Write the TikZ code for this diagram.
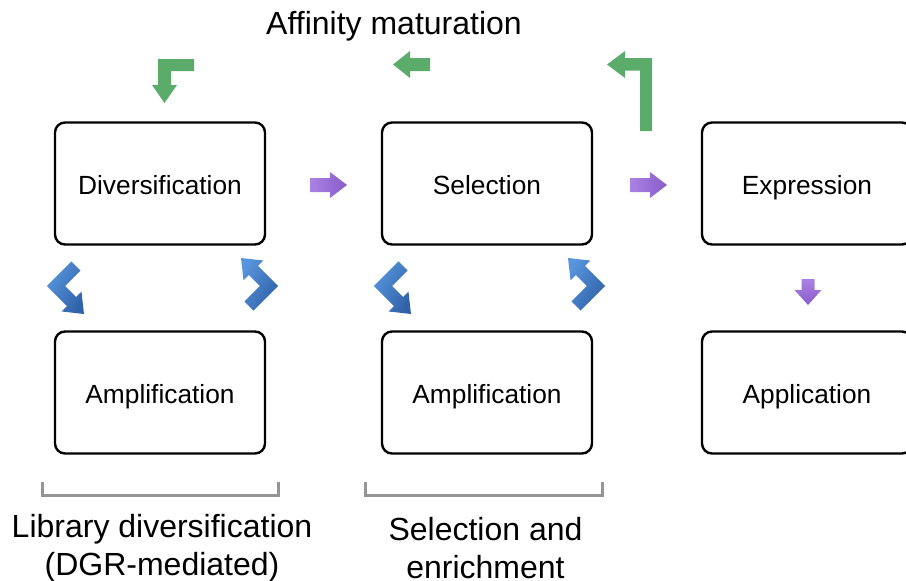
\documentclass[tikz,border=0pt]{standalone}
\usepackage{fontspec}
\setmainfont{Liberation Sans}
\begin{document}
\begin{tikzpicture}[x=1pt,y=-1pt,
  stagebox/.style={draw=black,line width=2.4pt,rounded corners=10pt,
    minimum width=210pt,minimum height=122pt,inner sep=0pt,
    text height=26pt,text depth=3.6pt,
    font=\fontsize{26.3}{31}\selectfont},
  caption/.style={align=center,font=\fontsize{32}{38.5}\selectfont,inner sep=0pt},
  bracketline/.style={draw=black!42,line width=3pt},
  greenarrow/.style={fill=arrowgreen},
  purplearrow/.style={left color=purpleL,right color=purpleD},
  purpledown/.style={top color=purpleL,bottom color=purpleD},
  bluearrow/.style={left color=blueL,right color=blueD,shading angle=60}]
\definecolor{arrowgreen}{HTML}{5BAC6B}
\definecolor{purpleL}{HTML}{AA82E4}
\definecolor{purpleD}{HTML}{8A5CCB}
\definecolor{blueL}{HTML}{5794DC}
\definecolor{blueD}{HTML}{3062A9}
\useasboundingbox (0,0) rectangle (906,581);

% title
\node[font=\fontsize{32}{38}\selectfont,inner sep=0pt] (title) at (394,26) {Affinity maturation};

% stage boxes
\node[stagebox] (div)  at (160,183.5) {Diversification};
\node[stagebox] (sel)  at (487,183.5) {Selection};
\node[stagebox] (expr) at (807,183.5) {Expression};
\node[stagebox] (amp1) at (160,392.5) {Amplification};
\node[stagebox] (amp2) at (487,392.5) {Amplification};
\node[stagebox] (app)  at (807,392.5) {Application};

% forward arrows (purple)
\shade[purplearrow] (310,178) -- (330,178) -- (330,172) -- (347,185)
  -- (330,198) -- (330,192) -- (310,192) -- cycle;
\shade[purplearrow] (630,178) -- (650,178) -- (650,172) -- (667,185)
  -- (650,198) -- (650,192) -- (630,192) -- cycle;
\shade[purpledown] (801.5,279) -- (814.5,279) -- (814.5,290) -- (821.5,290)
  -- (808,305) -- (794.5,290) -- (801.5,290) -- cycle;

% affinity maturation loop (green)
\fill[greenarrow] (194,59) -- (158,59) -- (158,85) -- (152,85) -- (164.5,103)
  -- (177,85) -- (171,85) -- (171,71) -- (194,71) -- cycle;
\fill[greenarrow] (430,58) -- (410,58) -- (410,51) -- (393,64.5)
  -- (410,78) -- (410,71) -- (430,71) -- cycle;
\fill[greenarrow] (652,131) -- (652,58) -- (625,58) -- (625,51) -- (607,64.5)
  -- (625,78) -- (625,70.5) -- (640,70.5) -- (640,131) -- cycle;

% amplification cycles (blue chevrons)
\foreach \vx in {56,383} {
  \begin{scope}[shift={(\vx,286)}]
    \shade[bluearrow] (15.4,-24.6) -- (-9.19,0) -- (11.0,20.2) -- (5.66,25.46)
      -- (28,28) -- (25.46,5.66) -- (20.2,11.0) -- (9.19,0) -- (24.6,-15.4) -- cycle;
  \end{scope}
}
\foreach \vx in {269,596} {
  \begin{scope}[shift={(\vx,286)}]
    \shade[bluearrow] (-15.4,24.6) -- (9.19,0) -- (-11.0,-20.2) -- (-5.66,-25.46)
      -- (-28,-28) -- (-25.46,-5.66) -- (-20.2,-11.0) -- (-9.19,0) -- (-24.6,15.4) -- cycle;
  \end{scope}
}

% phase brackets
\draw[bracketline] (42,482) -- (42,495) -- (278,495) -- (278,482);
\draw[bracketline] (365,482) -- (365,495) -- (602,495) -- (602,482);

% phase captions
\node[caption] (libcap) at (162,548) {Library diversification\\(DGR-mediated)};
\node[caption] (selcap) at (485.5,548) {Selection and\\enrichment};
\end{tikzpicture}
\end{document}
